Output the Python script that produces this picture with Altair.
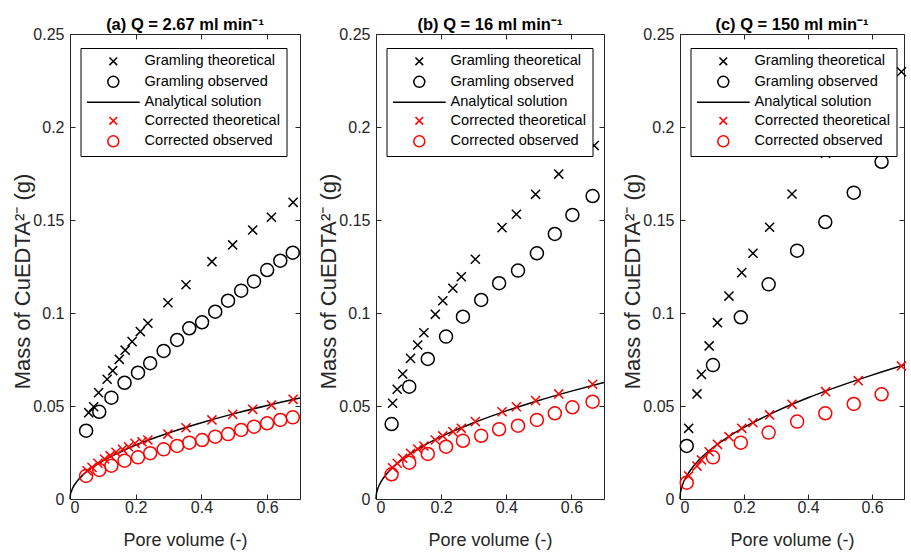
import altair as alt
import pandas as pd

# ---------------- data ----------------
SERIES = ["Gramling theoretical", "Gramling observed", "Analytical solution",
          "Corrected theoretical", "Corrected observed"]
COLORS = ["#000000", "#000000", "#000000", "#ff0000", "#ff0000"]

TITLES = ["(a) Q = 2.67 ml min\u207b\u00b9", "(b) Q = 16 ml min\u207b\u00b9", "(c) Q = 150 ml min\u207b\u00b9"]

# panel (a)
a_gt_x = [0.057, 0.072, 0.087, 0.113, 0.130, 0.150, 0.168, 0.189, 0.214, 0.237, 0.298, 0.353, 0.432, 0.495, 0.556, 0.613, 0.679]
a_gt_y = [0.0464, 0.0496, 0.0572, 0.0644, 0.0690, 0.0751, 0.0800, 0.0846, 0.0900, 0.0945, 0.1055, 0.1152, 0.1276, 0.1366, 0.1446, 0.1515, 0.1595]
a_go_x = [0.049, 0.089, 0.126, 0.166, 0.207, 0.244, 0.285, 0.326, 0.363, 0.402, 0.442, 0.481, 0.521, 0.560, 0.600, 0.640, 0.678]
a_go_y = [0.0367, 0.0469, 0.0545, 0.0625, 0.0679, 0.0730, 0.0796, 0.0855, 0.0918, 0.0950, 0.1007, 0.1066, 0.1120, 0.1170, 0.1231, 0.1281, 0.1324]
a_ct_x = [0.052, 0.067, 0.085, 0.105, 0.122, 0.140, 0.160, 0.178, 0.198, 0.219, 0.237, 0.298, 0.353, 0.432, 0.495, 0.556, 0.613, 0.679]
a_ct_y = [0.0152, 0.0170, 0.0192, 0.0215, 0.0233, 0.0251, 0.0267, 0.0281, 0.0299, 0.0308, 0.0317, 0.0349, 0.0383, 0.0425, 0.0455, 0.0482, 0.0505, 0.0536]
a_co_x = a_go_x
a_co_y = [0.0124, 0.0156, 0.0179, 0.0206, 0.0224, 0.0246, 0.0267, 0.0285, 0.0303, 0.0317, 0.0335, 0.0349, 0.0371, 0.0389, 0.0407, 0.0425, 0.0439]

# panel (b)
b_gt_x = [0.051, 0.065, 0.082, 0.106, 0.128, 0.147, 0.182, 0.205, 0.236, 0.262, 0.305, 0.387, 0.431, 0.490, 0.561, 0.670]
b_gt_y = [0.0515, 0.0590, 0.0672, 0.0756, 0.0828, 0.0894, 0.0993, 0.1066, 0.1133, 0.1195, 0.1289, 0.1459, 0.1531, 0.1638, 0.1747, 0.1900]
b_go_x = [0.048, 0.102, 0.159, 0.215, 0.267, 0.323, 0.378, 0.436, 0.494, 0.549, 0.603, 0.665]
b_go_y = [0.0403, 0.0604, 0.0753, 0.0873, 0.0980, 0.1070, 0.1160, 0.1228, 0.1321, 0.1425, 0.1527, 0.1629]
b_ct_x = [0.051, 0.065, 0.082, 0.106, 0.128, 0.147, 0.182, 0.205, 0.236, 0.262, 0.305, 0.387, 0.431, 0.490, 0.561, 0.665]
b_ct_y = [0.0168, 0.0192, 0.0219, 0.0246, 0.0269, 0.0285, 0.0317, 0.0339, 0.0362, 0.0380, 0.0416, 0.0469, 0.0496, 0.0529, 0.0565, 0.0617]
b_co_x = b_go_x
b_co_y = [0.0133, 0.0195, 0.0242, 0.0281, 0.0313, 0.0340, 0.0375, 0.0394, 0.0425, 0.0461, 0.0493, 0.0523]

# panel (c)
c_gt_x = [0.027, 0.053, 0.067, 0.091, 0.117, 0.153, 0.193, 0.228, 0.280, 0.350, 0.455, 0.557, 0.692]
c_gt_y = [0.0380, 0.0565, 0.0670, 0.0823, 0.0948, 0.1091, 0.1217, 0.1321, 0.1461, 0.1640, 0.1859, 0.2070, 0.2297]
c_go_x = [0.021, 0.103, 0.190, 0.277, 0.366, 0.454, 0.543, 0.630]
c_go_y = [0.0285, 0.0720, 0.0977, 0.1154, 0.1335, 0.1489, 0.1647, 0.1813]
c_ct_x = c_gt_x
c_ct_y = [0.0124, 0.0177, 0.0210, 0.0254, 0.0294, 0.0335, 0.0380, 0.0410, 0.0452, 0.0509, 0.0577, 0.0636, 0.0715]
c_co_x = c_go_x
c_co_y = [0.0088, 0.0224, 0.0303, 0.0357, 0.0416, 0.0461, 0.0511, 0.0563]

# analytical solution curves
line_x = [0, 0.001, 0.0025, 0.005, 0.01, 0.02, 0.04, 0.07, 0.1, 0.15, 0.2, 0.3, 0.4, 0.5, 0.6, 0.7]
a_line_y = [0, 0.0021, 0.0033, 0.0045, 0.0065, 0.0092, 0.0130, 0.0172, 0.0205, 0.0250, 0.0290, 0.0355, 0.0410, 0.0459, 0.0503, 0.0543]
b_line_y = [0, 0.0024, 0.0038, 0.0053, 0.0075, 0.0106, 0.0150, 0.0198, 0.0237, 0.0290, 0.0335, 0.0410, 0.0474, 0.0530, 0.0580, 0.0627]
c_line_y = [0, 0.0027, 0.0043, 0.0060, 0.0086, 0.0121, 0.0172, 0.0228, 0.0272, 0.0333, 0.0385, 0.0471, 0.0544, 0.0608, 0.0666, 0.0720]

X_TICKS = [0, 0.2, 0.4, 0.6]
Y_TICKS = [0, 0.05, 0.1, 0.15, 0.2, 0.25]

# ---------------- styling ----------------
FONT = "Liberation Sans"
AX = "#262626"
X_PATH = "M-0.7,-0.7L0.7,0.7M-0.7,0.7L0.7,-0.7"
O_PATH = "M1,0A1,1,0,1,1,-1,0A1,1,0,1,1,1,0Z"
L_PATH = "M-4.8,0L4.8,0"
SHAPES = [X_PATH, O_PATH, L_PATH, X_PATH, O_PATH]


def pts(xs, ys, name):
    return pd.DataFrame({"x": xs, "y": ys, "series": name})


def panel(title, width, gt, go, ct, co, ly):
    black = pd.concat([pts(*gt, SERIES[0]), pts(*go, SERIES[1])], ignore_index=True)
    red = pd.concat([pts(*ct, SERIES[3]), pts(*co, SERIES[4])], ignore_index=True)
    line = pd.DataFrame({"x": line_x, "y": ly})

    xs = alt.Scale(domain=[0, 0.7], nice=False, zero=False)
    ys = alt.Scale(domain=[0, 0.25], nice=False, zero=False)
    cs = alt.Scale(domain=SERIES, range=COLORS)
    ss = alt.Scale(domain=SERIES, range=SHAPES)

    common_axis = dict(tickSize=5, offset=-5, domain=False, grid=False, tickColor=AX,
                       tickWidth=1, labelFont=FONT, labelFontSize=16, labelColor=AX,
                       titleFont=FONT, titleColor=AX, titleFontWeight="normal", minExtent=0)

    x_bottom = alt.Axis(orient="bottom", values=X_TICKS, format="~g", title="Pore volume (-)",
                        labelPadding=0, titlePadding=16, titleFontSize=18, **common_axis)
    y_left = alt.Axis(orient="left", values=Y_TICKS, format="~g", title="Mass of CuEDTA\u00b2\u207b (g)",
                      labelPadding=6, titlePadding=-2, titleFontSize=22, titleY=247, **common_axis)
    x_top = alt.Axis(orient="top", values=X_TICKS, labels=False, title=None, labelPadding=0,
                     maxExtent=0, **common_axis)
    y_right = alt.Axis(orient="right", values=Y_TICKS, labels=False, title=None, labelPadding=0,
                       maxExtent=0, **common_axis)

    legend = alt.Legend(title=None, orient="none", legendX=10.5, legendY=14,
                        strokeColor="black", fillColor="white", padding=6,
                        symbolSize=121, symbolStrokeWidth=1.5, symbolFillColor="transparent",
                        labelFont=FONT, labelFontSize=14.6, labelColor="black",
                        symbolOffset=19.5, labelOffset=23.9, rowPadding=3.5, cornerRadius=0)

    l_black = alt.Chart(black).mark_point(filled=False, size=169, strokeWidth=1.5, opacity=1).encode(
        x=alt.X("x:Q", scale=xs, axis=x_bottom),
        y=alt.Y("y:Q", scale=ys, axis=y_left),
        color=alt.Color("series:N", scale=cs, legend=legend),
        shape=alt.Shape("series:N", scale=ss, legend=legend),
    )
    l_line = alt.Chart(line).mark_line(color="black", strokeWidth=1.5, interpolate="monotone").encode(
        x=alt.X("x:Q", scale=xs, axis=x_top),
        y=alt.Y("y:Q", scale=ys, axis=y_right),
    )
    l_red = alt.Chart(red).mark_point(filled=False, size=169, strokeWidth=1.5, opacity=1).encode(
        x=alt.X("x:Q", scale=xs, axis=None),
        y=alt.Y("y:Q", scale=ys, axis=None),
        color=alt.Color("series:N", scale=cs, legend=None),
        shape=alt.Shape("series:N", scale=ss, legend=None),
    )
    return alt.layer(l_black, l_line, l_red).resolve_axis(x="independent", y="independent").properties(
        width=width, height=465,
        title=alt.TitleParams(text=title, font=FONT, fontSize=16.5, fontWeight="bold",
                              color="black", offset=-7, anchor="middle"),
    )


pa = panel(TITLES[0], 230, (a_gt_x, a_gt_y), (a_go_x, a_go_y), (a_ct_x, a_ct_y), (a_co_x, a_co_y), a_line_y)
pb = panel(TITLES[1], 228, (b_gt_x, b_gt_y), (b_go_x, b_go_y), (b_ct_x, b_ct_y), (b_co_x, b_co_y), b_line_y)
pc = panel(TITLES[2], 224, (c_gt_x, c_gt_y), (c_go_x, c_go_y), (c_ct_x, c_ct_y), (c_co_x, c_co_y), c_line_y)

chart = alt.hconcat(pa, pb, pc, spacing=13).resolve_scale(
    color="independent", shape="independent"
).properties(
    padding={"left": 11, "top": 16, "right": 0, "bottom": 0},
    background="white",
).configure_view(stroke=AX, strokeWidth=1)

chart.save("out.html", embed_options={"renderer": "svg", "actions": False})
